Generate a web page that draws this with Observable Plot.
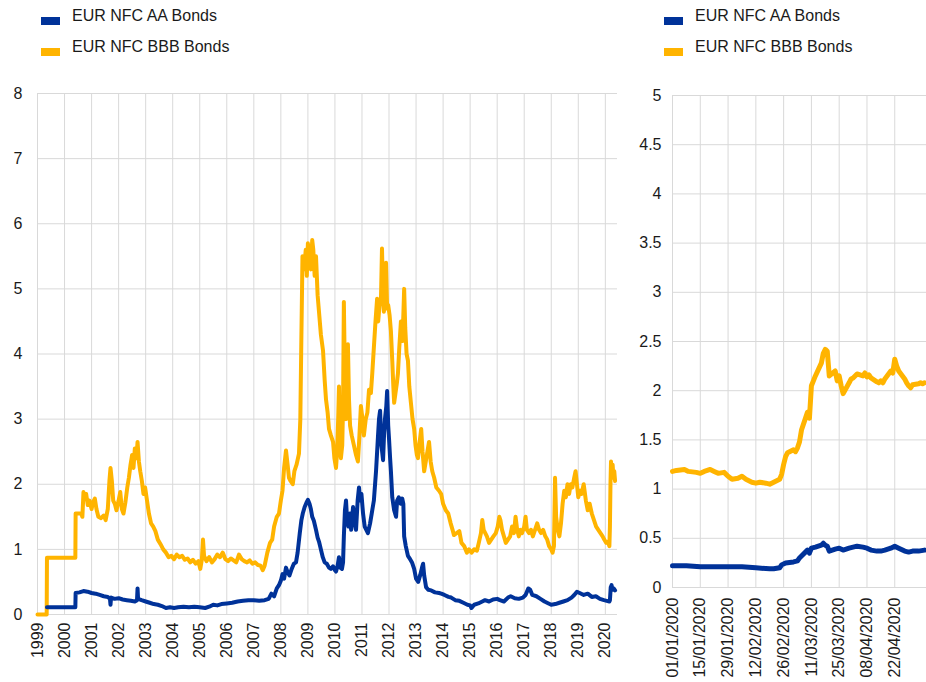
<!DOCTYPE html>
<html>
<head>
<meta charset="utf-8">
<script src="https://cdn.jsdelivr.net/npm/d3@7"></script>
<script src="https://cdn.jsdelivr.net/npm/@observablehq/plot@0.6"></script>
<style>
  body { margin: 0; background: #fff; font-family: "Liberation Sans", Arial, sans-serif; }
  #wrap { position: relative; width: 926px; height: 682px; overflow: hidden; }
  .col { position: absolute; top: 0; height: 682px; }
  .legend { position: absolute; top: 0; left: 0; width: 100%; height: 70px; }
  .item { position: absolute; font-size: 16px; color: #1a1a1a; white-space: nowrap; }
  .sw { position: absolute; width: 19px; height: 8px; }
  .chart { position: absolute; top: 70px; left: 0; }
</style>
</head>
<body>
<div id="wrap">
  <div class="col" id="leftCol" style="left:0;width:630px;">
    <div class="legend" id="legL"></div>
    <div class="chart" id="chartL"></div>
  </div>
  <div class="col" id="rightCol" style="left:630px;width:296px;">
    <div class="legend" id="legR"></div>
    <div class="chart" id="chartR"></div>
  </div>
</div>
<script>
// ---------- Data ----------
const seriesNames = ["EUR NFC AA Bonds", "EUR NFC BBB Bonds"];
const seriesColors = ["#003299", "#ffb400"];

// Long history (decimal years)
const bbbYears = [1999.00,1999.34,1999.35,2000.40,2000.41,2000.62,2000.66,2000.70,2000.75,2000.80,2000.86,2000.92,2001.00,2001.05,2001.12,2001.18,2001.25,2001.35,2001.45,2001.52,2001.60,2001.66,2001.70,2001.75,2001.80,2001.86,2001.92,2002.00,2002.06,2002.12,2002.18,2002.25,2002.32,2002.38,2002.44,2002.50,2002.55,2002.60,2002.66,2002.70,2002.75,2002.80,2002.86,2002.92,2002.98,2003.05,2003.12,2003.20,2003.28,2003.36,2003.45,2003.55,2003.65,2003.75,2003.85,2003.95,2004.05,2004.15,2004.25,2004.35,2004.45,2004.55,2004.65,2004.75,2004.85,2004.95,2005.02,2005.08,2005.12,2005.16,2005.25,2005.35,2005.45,2005.55,2005.65,2005.75,2005.85,2005.95,2006.05,2006.15,2006.25,2006.35,2006.45,2006.55,2006.65,2006.75,2006.85,2006.95,2007.05,2007.15,2007.25,2007.33,2007.40,2007.50,2007.60,2007.68,2007.75,2007.85,2007.93,2008.00,2008.06,2008.12,2008.19,2008.25,2008.30,2008.36,2008.44,2008.50,2008.58,2008.67,2008.72,2008.76,2008.80,2008.86,2008.92,2008.96,2009.00,2009.05,2009.11,2009.16,2009.20,2009.25,2009.30,2009.36,2009.41,2009.48,2009.56,2009.62,2009.67,2009.73,2009.78,2009.85,2009.93,2009.98,2010.04,2010.08,2010.12,2010.15,2010.18,2010.22,2010.27,2010.30,2010.33,2010.37,2010.41,2010.45,2010.48,2010.52,2010.56,2010.62,2010.70,2010.78,2010.85,2010.90,2010.96,2011.02,2011.07,2011.14,2011.20,2011.26,2011.33,2011.38,2011.44,2011.50,2011.56,2011.60,2011.65,2011.70,2011.74,2011.78,2011.81,2011.85,2011.89,2011.93,2011.97,2012.02,2012.07,2012.12,2012.16,2012.19,2012.24,2012.29,2012.33,2012.38,2012.44,2012.50,2012.56,2012.60,2012.65,2012.70,2012.75,2012.81,2012.87,2012.93,2012.98,2013.03,2013.07,2013.12,2013.19,2013.24,2013.30,2013.36,2013.42,2013.48,2013.54,2013.60,2013.67,2013.75,2013.85,2013.93,2014.00,2014.10,2014.19,2014.28,2014.35,2014.40,2014.50,2014.60,2014.68,2014.78,2014.88,2014.96,2015.05,2015.15,2015.25,2015.32,2015.40,2015.45,2015.50,2015.56,2015.62,2015.70,2015.78,2015.86,2015.95,2016.02,2016.08,2016.12,2016.18,2016.25,2016.32,2016.40,2016.48,2016.55,2016.62,2016.68,2016.74,2016.80,2016.86,2016.92,2017.00,2017.05,2017.10,2017.18,2017.25,2017.32,2017.40,2017.48,2017.55,2017.62,2017.70,2017.78,2017.85,2017.92,2018.00,2018.05,2018.10,2018.14,2018.18,2018.24,2018.30,2018.36,2018.42,2018.48,2018.54,2018.60,2018.66,2018.72,2018.78,2018.85,2018.90,2018.95,2019.00,2019.06,2019.12,2019.20,2019.28,2019.35,2019.42,2019.50,2019.58,2019.66,2019.74,2019.82,2019.90,2019.96,2020.03,2020.10,2020.15,2020.17,2020.19,2020.21,2020.24,2020.27,2020.30,2020.33,2020.36];
const bbbValues = [0,0,0.87,0.87,1.55,1.55,1.5,1.88,1.78,1.85,1.68,1.75,1.62,1.72,1.78,1.62,1.50,1.48,1.52,1.45,1.62,2.05,2.25,2.05,1.75,1.70,1.60,1.75,1.88,1.62,1.55,1.72,1.95,2.1,2.3,2.45,2.25,2.55,2.40,2.65,2.35,2.20,2.05,1.85,1.95,1.75,1.55,1.40,1.35,1.28,1.15,1.08,1.0,0.95,0.88,0.90,0.85,0.92,0.88,0.90,0.84,0.86,0.80,0.84,0.78,0.82,0.70,0.85,1.15,0.90,0.82,0.88,0.80,0.85,0.92,0.88,0.95,0.85,0.82,0.86,0.83,0.80,0.92,0.85,0.82,0.80,0.83,0.78,0.80,0.76,0.75,0.68,0.75,0.95,1.10,1.15,1.35,1.50,1.55,1.75,1.9,2.25,2.52,2.3,2.1,2.05,2.0,2.2,2.3,2.47,3.0,4.3,5.5,5.3,5.6,5.2,5.7,5.4,5.3,5.75,5.6,5.2,5.5,4.9,4.65,4.3,4.05,3.6,3.3,3.1,2.85,2.75,2.65,2.4,2.25,2.5,3.0,3.5,2.6,2.4,2.6,3.2,4.8,3.6,3.0,3.6,4.15,3.3,2.9,2.75,2.6,2.45,2.35,2.7,3.2,3.0,2.75,3.0,3.1,3.45,3.4,3.7,4.1,4.5,4.85,4.5,4.75,4.8,5.62,4.9,4.65,5.0,5.4,4.7,4.75,4.6,4.35,3.9,3.5,3.25,3.4,3.55,3.7,4.1,4.5,4.2,5.0,4.4,4.0,3.9,3.5,3.25,3.0,2.85,2.6,2.45,2.4,2.6,2.85,2.5,2.2,2.35,2.5,2.65,2.35,2.2,2.1,1.95,1.9,1.85,1.7,1.6,1.55,1.4,1.3,1.22,1.25,1.28,1.1,1.05,0.95,1.0,0.95,1.0,0.98,1.1,1.25,1.45,1.3,1.25,1.2,1.1,1.15,1.2,1.25,1.35,1.5,1.45,1.3,1.2,1.1,1.15,1.2,1.35,1.25,1.5,1.3,1.2,1.3,1.25,1.35,1.5,1.3,1.25,1.3,1.2,1.3,1.4,1.3,1.25,1.3,1.2,1.15,1.05,1.0,0.95,1.05,2.1,1.5,1.3,1.2,1.4,1.7,1.9,1.8,2.0,1.85,2.0,1.95,2.1,2.2,2.0,1.8,1.9,1.85,2.0,1.75,1.6,1.7,1.55,1.45,1.35,1.3,1.25,1.2,1.15,1.1,1.12,1.05,1.35,2.0,2.35,2.1,2.3,2.1,2.2,2.05];

const aaYears = [1999.35,2000.40,2000.41,2000.55,2000.70,2000.85,2001.00,2001.15,2001.30,2001.45,2001.60,2001.68,2001.70,2001.72,2001.85,2002.00,2002.15,2002.30,2002.45,2002.60,2002.68,2002.70,2002.72,2002.85,2003.00,2003.15,2003.30,2003.45,2003.60,2003.75,2003.90,2004.05,2004.20,2004.40,2004.60,2004.80,2005.00,2005.20,2005.35,2005.50,2005.65,2005.80,2006.00,2006.20,2006.40,2006.60,2006.80,2007.00,2007.20,2007.40,2007.55,2007.65,2007.75,2007.85,2007.93,2008.00,2008.06,2008.12,2008.19,2008.25,2008.32,2008.40,2008.48,2008.56,2008.62,2008.70,2008.76,2008.81,2008.88,2008.95,2009.00,2009.06,2009.11,2009.16,2009.22,2009.30,2009.36,2009.41,2009.48,2009.55,2009.62,2009.70,2009.78,2009.85,2009.93,2010.00,2010.04,2010.10,2010.15,2010.20,2010.26,2010.30,2010.33,2010.37,2010.41,2010.45,2010.50,2010.55,2010.60,2010.67,2010.72,2010.78,2010.84,2010.89,2010.93,2010.98,2011.04,2011.10,2011.16,2011.22,2011.30,2011.36,2011.44,2011.52,2011.59,2011.63,2011.67,2011.72,2011.78,2011.82,2011.85,2011.90,2011.93,2011.97,2012.00,2012.04,2012.07,2012.12,2012.19,2012.26,2012.30,2012.36,2012.43,2012.49,2012.53,2012.56,2012.62,2012.70,2012.78,2012.85,2012.93,2013.00,2013.08,2013.15,2013.22,2013.26,2013.30,2013.37,2013.45,2013.56,2013.70,2013.85,2013.93,2014.05,2014.20,2014.30,2014.45,2014.60,2014.75,2014.90,2015.00,2015.05,2015.15,2015.30,2015.45,2015.55,2015.70,2015.85,2016.00,2016.10,2016.25,2016.40,2016.50,2016.65,2016.80,2016.95,2017.05,2017.15,2017.22,2017.30,2017.45,2017.60,2017.75,2017.90,2018.00,2018.15,2018.30,2018.45,2018.60,2018.75,2018.85,2018.95,2019.05,2019.20,2019.35,2019.50,2019.65,2019.80,2019.95,2020.05,2020.15,2020.17,2020.20,2020.23,2020.27,2020.31,2020.36];
const aaValues = [0.11,0.11,0.33,0.34,0.36,0.35,0.33,0.32,0.30,0.28,0.27,0.24,0.15,0.26,0.24,0.25,0.23,0.22,0.21,0.20,0.22,0.40,0.24,0.22,0.20,0.18,0.16,0.15,0.13,0.10,0.11,0.10,0.11,0.12,0.11,0.12,0.11,0.10,0.12,0.15,0.14,0.16,0.17,0.18,0.20,0.21,0.22,0.22,0.21,0.22,0.24,0.32,0.28,0.40,0.45,0.52,0.62,0.55,0.72,0.65,0.60,0.70,0.78,0.80,0.95,1.25,1.45,1.55,1.65,1.72,1.76,1.70,1.62,1.50,1.44,1.30,1.18,1.12,1.00,0.88,0.80,0.78,0.72,0.70,0.74,0.68,0.66,0.75,0.88,0.72,0.70,0.80,1.2,1.6,1.75,1.45,1.35,1.55,1.3,1.65,1.45,1.30,1.75,1.95,1.75,1.85,1.55,1.35,1.30,1.25,1.40,1.55,1.75,2.2,2.72,3.0,3.13,2.6,2.37,2.8,3.0,3.2,3.43,2.9,2.7,2.4,2.2,1.8,1.6,1.5,1.75,1.8,1.7,1.78,1.7,1.2,1.05,0.9,0.85,0.80,0.70,0.55,0.50,0.60,0.72,0.78,0.60,0.42,0.38,0.37,0.34,0.33,0.32,0.30,0.27,0.26,0.22,0.21,0.18,0.15,0.14,0.10,0.15,0.17,0.20,0.22,0.20,0.23,0.24,0.22,0.20,0.26,0.28,0.25,0.24,0.26,0.30,0.40,0.38,0.30,0.28,0.24,0.20,0.17,0.15,0.16,0.18,0.20,0.22,0.26,0.30,0.35,0.33,0.30,0.32,0.27,0.28,0.24,0.22,0.21,0.20,0.22,0.42,0.45,0.38,0.40,0.37];

const yearTicks = [1999,2000,2001,2002,2003,2004,2005,2006,2007,2008,2009,2010,2011,2012,2013,2014,2015,2016,2017,2018,2019,2020];
const leftYTicks = [0,1,2,3,4,5,6,7,8];

// 2020 detail
const bbbDates2020 = ["2020-01-01","2020-01-03","2020-01-07","2020-01-09","2020-01-13","2020-01-15","2020-01-17","2020-01-20","2020-01-22","2020-01-24","2020-01-27","2020-01-29","2020-01-31","2020-02-03","2020-02-05","2020-02-07","2020-02-10","2020-02-12","2020-02-14","2020-02-17","2020-02-19","2020-02-21","2020-02-24","2020-02-25","2020-02-26","2020-02-27","2020-02-28","2020-03-02","2020-03-03","2020-03-04","2020-03-05","2020-03-06","2020-03-09","2020-03-10","2020-03-11","2020-03-12","2020-03-13","2020-03-16","2020-03-17","2020-03-18","2020-03-19","2020-03-20","2020-03-23","2020-03-24","2020-03-25","2020-03-26","2020-03-27","2020-03-30","2020-03-31","2020-04-01","2020-04-02","2020-04-03","2020-04-06","2020-04-07","2020-04-08","2020-04-09","2020-04-10","2020-04-13","2020-04-14","2020-04-15","2020-04-16","2020-04-17","2020-04-20","2020-04-21","2020-04-22","2020-04-23","2020-04-24","2020-04-27","2020-04-28","2020-04-29","2020-04-30","2020-05-01","2020-05-04","2020-05-05","2020-05-06","2020-05-07"];
const bbbValues2020 = [1.18,1.19,1.20,1.18,1.17,1.16,1.18,1.20,1.18,1.16,1.17,1.13,1.10,1.11,1.13,1.10,1.07,1.06,1.07,1.06,1.05,1.07,1.10,1.15,1.25,1.33,1.37,1.40,1.38,1.42,1.48,1.60,1.78,1.72,2.05,2.10,2.15,2.28,2.38,2.42,2.40,2.15,2.20,2.10,2.15,2.05,1.97,2.08,2.12,2.13,2.15,2.17,2.15,2.18,2.14,2.16,2.13,2.09,2.08,2.10,2.08,2.12,2.20,2.18,2.32,2.25,2.20,2.12,2.08,2.05,2.03,2.06,2.07,2.08,2.07,2.08];

const aaDates2020 = ["2020-01-01","2020-01-08","2020-01-15","2020-01-22","2020-01-29","2020-02-05","2020-02-12","2020-02-19","2020-02-21","2020-02-24","2020-02-25","2020-02-27","2020-03-02","2020-03-04","2020-03-05","2020-03-06","2020-03-09","2020-03-10","2020-03-11","2020-03-13","2020-03-16","2020-03-17","2020-03-18","2020-03-19","2020-03-20","2020-03-23","2020-03-25","2020-03-27","2020-03-30","2020-04-01","2020-04-03","2020-04-06","2020-04-08","2020-04-10","2020-04-13","2020-04-15","2020-04-17","2020-04-20","2020-04-22","2020-04-24","2020-04-27","2020-04-29","2020-05-01","2020-05-04","2020-05-07"];
const aaValues2020 = [0.22,0.22,0.21,0.21,0.21,0.21,0.20,0.19,0.19,0.20,0.23,0.25,0.26,0.27,0.30,0.32,0.38,0.35,0.40,0.41,0.43,0.45,0.43,0.42,0.37,0.39,0.40,0.38,0.40,0.41,0.42,0.41,0.40,0.38,0.37,0.37,0.38,0.40,0.42,0.40,0.37,0.36,0.37,0.37,0.38];

const dateTicks = ["2020-01-01","2020-01-15","2020-01-29","2020-02-12","2020-02-26","2020-03-11","2020-03-25","2020-04-08","2020-04-22"];
const rightYTicks = [0,0.5,1,1.5,2,2.5,3,3.5,4,4.5,5];

// ---------- Build ----------
const parse = d3.utcParse("%Y-%m-%d");
const longData = [
  ...bbbYears.map((t, i) => ({t, v: bbbValues[i], s: seriesNames[1]})),
  ...aaYears.map((t, i) => ({t, v: aaValues[i], s: seriesNames[0]}))
];
const shortData = [
  ...bbbDates2020.map((d, i) => ({t: parse(d), v: bbbValues2020[i], s: seriesNames[1]})),
  ...aaDates2020.map((d, i) => ({t: parse(d), v: aaValues2020[i], s: seriesNames[0]}))
];

function legend(el, left) {
  seriesNames.forEach((name, i) => {
    const top = i === 0 ? 7 : 38;
    const sw = document.createElement("div");
    sw.className = "sw";
    sw.style.left = left + "px";
    sw.style.top = (top + 10) + "px";
    sw.style.background = seriesColors[i];
    el.appendChild(sw);
    const tx = document.createElement("div");
    tx.className = "item";
    tx.style.left = (left + 31) + "px";
    tx.style.top = top + "px";
    tx.textContent = name;
    el.appendChild(tx);
  });
}
legend(document.getElementById("legL"), 41);
legend(document.getElementById("legR"), 34);

const gridColor = "#d9d9d9";
const fontStyle = {fontFamily: "'Liberation Sans', Arial, sans-serif", fontSize: "16px", color: "#1a1a1a", background: "transparent"};
const colorScale = {domain: seriesNames, range: seriesColors};

const left = Plot.plot({
  width: 630, height: 612,
  marginLeft: 37, marginRight: 13, marginTop: 23, marginBottom: 68,
  style: fontStyle,
  x: {domain: [1999, 2020.45]},
  y: {domain: [0, 8]},
  color: colorScale,
  marks: [
    Plot.gridX(yearTicks, {stroke: gridColor, strokeOpacity: 1, strokeWidth: 1}),
    Plot.gridY(leftYTicks, {stroke: gridColor, strokeOpacity: 1, strokeWidth: 1}),
    Plot.axisY(leftYTicks, {tickSize: 0, tickPadding: 15, label: null, tickFormat: d => String(d)}),
    Plot.axisX(yearTicks, {tickSize: 0, tickPadding: 8, tickRotate: -90, label: null, tickFormat: d => String(d)}),
    Plot.line(longData, {x: "t", y: "v", z: "s", stroke: "s", strokeWidth: 4, strokeLinejoin: "round"})
  ]
});
document.getElementById("chartL").appendChild(left);

const right = Plot.plot({
  width: 296, height: 612,
  marginLeft: 42, marginRight: 0, marginTop: 25, marginBottom: 95,
  style: fontStyle,
  x: {type: "utc", domain: [parse("2020-01-01"), parse("2020-05-08")]},
  y: {domain: [0, 5]},
  color: colorScale,
  marks: [
    Plot.gridX(dateTicks.map(parse), {stroke: gridColor, strokeOpacity: 1, strokeWidth: 1}),
    Plot.gridY(rightYTicks, {stroke: gridColor, strokeOpacity: 1, strokeWidth: 1}),
    Plot.axisY(rightYTicks, {tickSize: 0, tickPadding: 11, label: null, tickFormat: d => String(d)}),
    Plot.axisX(dateTicks.map(parse), {tickSize: 0, tickPadding: 10, tickRotate: -90, label: null, tickFormat: d3.utcFormat("%d/%m/%Y")}),
    Plot.line(shortData, {x: "t", y: "v", z: "s", stroke: "s", strokeWidth: 5, strokeLinejoin: "round"})
  ]
});
document.getElementById("chartR").appendChild(right);
</script>
</body>
</html>
